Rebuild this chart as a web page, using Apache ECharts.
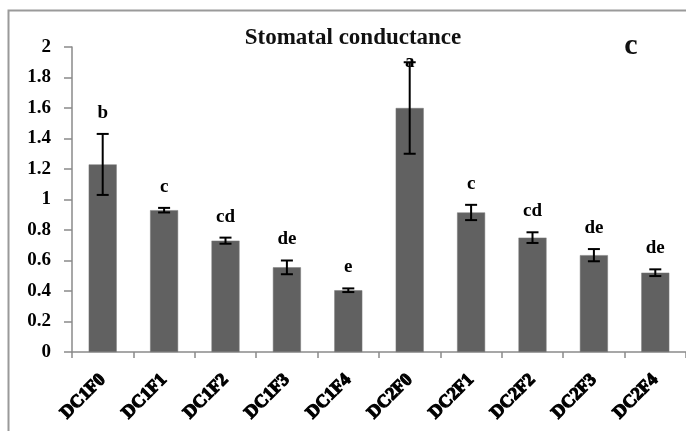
<!DOCTYPE html>
<html><head><meta charset="utf-8">
<script src="https://cdn.jsdelivr.net/npm/echarts@6/dist/echarts.min.js"></script>
<style>html,body{margin:0;padding:0;background:#fff}#c{width:686px;height:431px}</style>
</head><body><div id="c"></div>
<script>
var categories = ['DC1F0','DC1F1','DC1F2','DC1F3','DC1F4','DC2F0','DC2F1','DC2F2','DC2F3','DC2F4'];
var values = [1.23, 0.93, 0.73, 0.555, 0.405, 1.6, 0.915, 0.75, 0.635, 0.52];
var errors = [0.2, 0.015, 0.02, 0.045, 0.012, 0.3, 0.05, 0.035, 0.04, 0.022];
var letters = ['b','c','cd','de','e','a','c','cd','de','de'];
var yTicks = [0, 0.2, 0.4, 0.6, 0.8, 1, 1.2, 1.4, 1.6, 1.8, 2];

var FONT = '"Liberation Serif", "Times New Roman", serif';
var chart = echarts.init(document.getElementById('c'), null, {renderer:'canvas'});
var errData = values.map(function(v,i){ return [i, v - errors[i], v + errors[i]]; });
var lblData = values.map(function(v,i){ return [i, v + errors[i], letters[i]]; });

chart.setOption({
  animation: false,
  backgroundColor: '#fff',
  graphic: [
    {type:'rect', shape:{x:8.5, y:10.5, width:700, height:440}, style:{fill:'none', stroke:'#9a9a9a', lineWidth:2}, z:-1},
    {type:'text', x:353, y:38, style:{text:'Stomatal conductance', font:'bold 23px '+FONT, fill:'#111', align:'center', verticalAlign:'middle'}},
    {type:'text', x:631, y:46, style:{text:'c', font:'bold 30px '+FONT, fill:'#111', align:'center', verticalAlign:'middle'}}
  ],
  grid: {left:72, top:47, width:620, height:305, containLabel:false},
  xAxis: {
    type:'category', data: categories,
    axisLine:{lineStyle:{color:'#8a8a8a', width:1.5}},
    axisTick:{show:true, length:6, alignWithLabel:false, lineStyle:{color:'#8a8a8a', width:1.5}},
    axisLabel:{rotate:45, interval:0, margin:25, fontFamily:FONT, fontWeight:'bold', fontSize:18, color:'#000',
      textBorderColor:'#000', textBorderWidth:1.2}
  },
  yAxis: {
    type:'value', min:0, max:2, interval:0.2,
    splitLine:{show:false},
    axisLine:{show:true, lineStyle:{color:'#8a8a8a', width:1.5}},
    axisTick:{show:true, length:8, lineStyle:{color:'#8a8a8a', width:1.5}},
    axisLabel:{margin:21, fontFamily:FONT, fontWeight:'bold', fontSize:19, color:'#000',
      formatter:function(v){ return String(Math.round(v*10)/10); }}
  },
  series: [
    {type:'bar', data: values, barWidth:28, itemStyle:{color:'#616161', borderColor:'#7a7a7a', borderWidth:0.5}},
    {type:'custom', data: errData, z:5,
      renderItem:function(params, api){
        var x = api.value(0);
        var lo = api.coord([x, api.value(1)]);
        var hi = api.coord([x, api.value(2)]);
        var cw = 6;
        var st = {stroke:'#000', lineWidth:2};
        return {type:'group', children:[
          {type:'line', shape:{x1:lo[0], y1:lo[1], x2:hi[0], y2:hi[1]}, style:st},
          {type:'line', shape:{x1:lo[0]-cw, y1:lo[1], x2:lo[0]+cw, y2:lo[1]}, style:st},
          {type:'line', shape:{x1:hi[0]-cw, y1:hi[1], x2:hi[0]+cw, y2:hi[1]}, style:st}
        ]};
      }},
    {type:'custom', data: lblData, z:6,
      renderItem:function(params, api){
        var x = api.value(0);
        var p = api.coord([x, api.value(1)]);
        var y = Math.max(p[1] - 21, 62);
        return {type:'text', x:p[0], y:y, style:{text: letters[params.dataIndex], font:'bold 19px '+FONT, fill:'#000', align:'center', verticalAlign:'middle'}};
      }}
  ]
});
</script></body></html>
